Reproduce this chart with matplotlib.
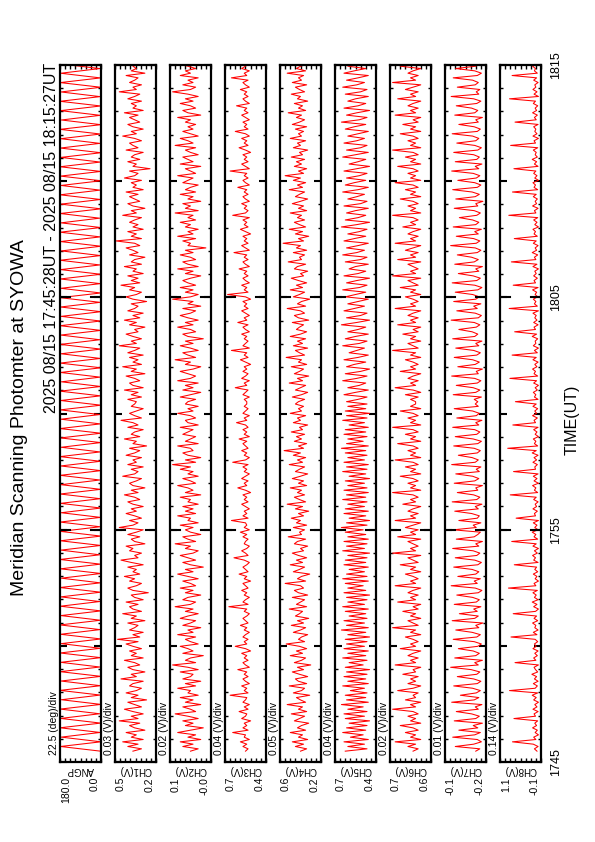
import numpy as np
import matplotlib
matplotlib.use("Agg")
import matplotlib.pyplot as plt
import matplotlib.transforms as mtransforms

plt.rcParams['font.family'] = ['Liberation Sans', 'DejaVu Sans']

title = "Meridian Scanning Photomter at SYOWA"
period = "2025 08/15 17:45:28UT - 2025 08/15 18:15:27UT"

# time in minutes after 17:00 UT
t_start = 45 + 28 / 60
t_end = 75 + 27 / 60
time_ticks = [45, 55, 65, 75]
time_labels = ["1745", "1755", "1805", "1815"]

names = ["ANGP", "CH1(V)", "CH2(V)", "CH3(V)", "CH4(V)", "CH5(V)", "CH6(V)", "CH7(V)", "CH8(V)"]
per_div = ["22.5 (deg)/div", "0.03 (V)/div", "0.02 (V)/div", "0.04 (V)/div", "0.05 (V)/div",
           "0.04 (V)/div", "0.02 (V)/div", "0.01 (V)/div", "0.14 (V)/div"]
vmin = [0.0, 0.225, -0.03, 0.40, 0.22, 0.38, 0.56, -0.21, -0.06]
vstep = [22.5, 0.03, 0.02, 0.04, 0.05, 0.04, 0.02, 0.01, 0.14]

angp = [2, 178, 0, 175, 4, 180, 1, 177, 6, 179, 0, 174, 3, 180, 2,
        176, 0, 179, 5, 177, 1, 180, 3, 175, 0, 178, 4, 180, 2, 176,
        0, 179, 6, 177, 1, 180, 3, 174, 0, 178, 2, 180, 5, 176, 1,
        179, 0, 177, 4, 180, 2, 175, 0, 178, 3, 180, 1, 176, 5, 179,
        0, 177, 2, 180, 4, 175, 1, 178, 0, 180, 3, 176, 6, 179, 0,
        177, 2, 180, 1, 174, 4, 178, 0, 180, 3, 176, 1, 179, 5, 177,
        0, 180, 2, 175, 0, 178, 4, 180, 1, 176, 3, 179, 0, 177, 5,
        180, 2, 174, 0, 178, 3, 180, 1, 176, 6, 179, 0, 177, 2, 180,
        4, 175, 0, 178, 1, 180, 3, 176, 0, 179, 5, 177, 2, 180, 0,
        174, 3, 178, 1, 180, 4, 176, 0, 179, 2, 177, 5, 180, 1, 175]

ch1 = [0.36, 0.31, 0.39, 0.33, 0.42, 0.30, 0.37, 0.34, 0.40, 0.29, 0.35, 0.38, 0.32, 0.44, 0.33,
       0.37, 0.30, 0.36, 0.41, 0.31, 0.35, 0.39, 0.28, 0.37, 0.33, 0.40, 0.34, 0.31, 0.38, 0.36,
       0.30, 0.43, 0.34, 0.37, 0.29, 0.36, 0.39, 0.32, 0.35, 0.41, 0.30, 0.37, 0.34, 0.38, 0.31,
       0.36, 0.40, 0.33, 0.45, 0.32, 0.36, 0.30, 0.38, 0.35, 0.33, 0.39, 0.29, 0.37, 0.34, 0.42,
       0.31, 0.36, 0.38, 0.33, 0.40, 0.30, 0.35, 0.37, 0.27, 0.36, 0.39, 0.34, 0.31, 0.38, 0.35,
       0.41, 0.32, 0.36, 0.34, 0.39, 0.30, 0.37, 0.43, 0.33, 0.35, 0.31, 0.38, 0.36, 0.40, 0.29,
       0.35, 0.37, 0.32, 0.39, 0.34, 0.30, 0.44, 0.36, 0.33, 0.38, 0.31, 0.35, 0.40, 0.34, 0.37,
       0.30, 0.36, 0.39, 0.32, 0.35, 0.41, 0.33, 0.37, 0.29, 0.36, 0.38, 0.34, 0.31, 0.42, 0.35,
       0.33, 0.37, 0.30, 0.39, 0.34, 0.36, 0.31, 0.40, 0.35, 0.32, 0.38, 0.28, 0.36, 0.34, 0.41,
       0.32, 0.37, 0.35, 0.30, 0.39, 0.33, 0.36, 0.43, 0.31, 0.35, 0.38, 0.34, 0.30, 0.37, 0.35,
       0.34, 0.39, 0.31, 0.37, 0.33, 0.41, 0.30, 0.36, 0.38, 0.32, 0.35, 0.40, 0.29, 0.37, 0.34,
       0.42, 0.31, 0.36, 0.33, 0.38, 0.30, 0.39, 0.35, 0.32, 0.44, 0.34, 0.37, 0.31, 0.36, 0.40,
       0.33, 0.35, 0.29, 0.38, 0.34, 0.41, 0.32, 0.36, 0.30, 0.39, 0.35, 0.33, 0.37, 0.28, 0.36,
       0.40, 0.34, 0.31, 0.38, 0.35, 0.43, 0.32, 0.37, 0.33, 0.39, 0.30, 0.36, 0.34, 0.41, 0.31,
       0.37, 0.35, 0.29, 0.38, 0.33, 0.36, 0.40, 0.32, 0.35, 0.46, 0.31, 0.37, 0.34, 0.39, 0.30,
       0.36, 0.33, 0.38, 0.35, 0.31, 0.42, 0.34, 0.37, 0.29, 0.36, 0.39, 0.32, 0.35, 0.38, 0.33,
       0.40, 0.30, 0.36, 0.34, 0.37, 0.31, 0.41, 0.35, 0.33, 0.38, 0.26, 0.36, 0.34, 0.39, 0.32,
       0.37, 0.35, 0.30, 0.40, 0.33, 0.36, 0.38, 0.31, 0.35, 0.42, 0.34, 0.37, 0.30, 0.36, 0.39,
       0.32, 0.35, 0.38, 0.33, 0.41, 0.30, 0.36, 0.34, 0.37, 0.31, 0.39, 0.35, 0.32, 0.44, 0.34,
       0.36, 0.31, 0.38, 0.35, 0.33, 0.40, 0.29, 0.37, 0.34, 0.36, 0.32, 0.39, 0.35, 0.31, 0.37]

ch2 = [0.05, 0.02, 0.08, 0.04, 0.09, 0.01, 0.06, 0.03, 0.10, 0.05, 0.00, 0.07, 0.04, 0.08, 0.02,
       0.06, 0.11, 0.03, 0.05, 0.08, 0.01, 0.07, 0.04, 0.09, 0.02, 0.06, 0.05, 0.10, 0.03, 0.07,
       0.01, 0.08, 0.05, 0.04, 0.09, 0.02, 0.06, 0.12, 0.03, 0.07, 0.05, 0.00, 0.08, 0.04, 0.06,
       0.09, 0.02, 0.05, 0.07, 0.03, 0.10, 0.04, 0.06, 0.01, 0.08, 0.05, 0.03, 0.09, 0.06, 0.02,
       0.07, 0.04, 0.11, 0.05, 0.03, 0.08, 0.06, 0.01, 0.07, 0.04, 0.09, 0.03, 0.05, 0.08, 0.02,
       0.06, 0.10, 0.04, 0.07, 0.00, 0.05, 0.08, 0.03, 0.06, 0.09, 0.04, 0.02, 0.07, 0.05, 0.11,
       0.03, 0.06, 0.08, 0.01, 0.05, 0.07, 0.04, 0.09, 0.02, 0.06, 0.05, 0.10, 0.03, 0.07, 0.04,
       0.08, 0.02, 0.06, 0.05, 0.09, 0.01, 0.07, 0.04, 0.06, 0.10, 0.03, 0.05, 0.08, 0.02, 0.06,
       0.04, 0.09, 0.05, 0.12, 0.03, 0.07, 0.01, 0.06, 0.08, 0.04, 0.05, 0.10, 0.02, 0.07, 0.05,
       0.03, 0.08, 0.06, 0.04, 0.09, 0.02, 0.06, 0.07, 0.03, 0.05, 0.10, 0.04, 0.06, 0.02, 0.07,
       0.06, 0.03, 0.09, 0.05, 0.01, 0.08, 0.04, 0.07, 0.02, 0.10, 0.05, 0.03, 0.06, 0.09, 0.04,
       0.01, 0.07, 0.05, 0.11, 0.03, 0.06, 0.08, 0.02, 0.05, 0.09, 0.04, 0.07, 0.00, 0.06, 0.08,
       0.03, 0.05, 0.10, 0.04, 0.07, 0.02, 0.06, 0.09, 0.05, 0.03, 0.08, 0.01, 0.06, 0.04, 0.12,
       0.05, 0.02, 0.07, 0.04, 0.09, 0.03, 0.06, 0.08, 0.05, 0.01, 0.07, 0.04, 0.10, 0.02, 0.06,
       0.08, 0.03, 0.05, 0.09, 0.04, 0.07, -0.01, 0.06, 0.05, 0.08, 0.03, 0.10, 0.04, 0.06, 0.02,
       0.07, 0.05, 0.09, 0.03, 0.06, 0.04, 0.11, 0.02, 0.07, 0.05, 0.08, 0.01, 0.06, 0.04, 0.09,
       0.03, 0.07, 0.05, 0.02, 0.08, 0.06, 0.04, 0.10, 0.03, 0.05, 0.07, 0.01, 0.09, 0.04, 0.06,
       0.08, 0.02, 0.05, 0.07, 0.03, 0.11, 0.04, 0.06, 0.09, 0.02, 0.05, 0.08, 0.04, 0.06, 0.03,
       0.07, 0.05, 0.10, 0.01, 0.06, 0.08, 0.03, 0.05, 0.09, 0.04, 0.07, 0.02, 0.06, 0.12, 0.05,
       0.03, 0.08, 0.04, 0.06, 0.02, 0.09, 0.05, 0.07, 0.03, 0.06, 0.10, 0.04, 0.05, 0.08, 0.06]

ch3 = [0.56, 0.54, 0.58, 0.55, 0.60, 0.53, 0.57, 0.56, 0.66, 0.54, 0.58, 0.55, 0.57, 0.52, 0.59,
       0.56, 0.55, 0.61, 0.54, 0.57, 0.53, 0.58, 0.56, 0.55, 0.68, 0.54, 0.57, 0.55, 0.59, 0.53,
       0.56, 0.58, 0.54, 0.57, 0.55, 0.62, 0.53, 0.56, 0.58, 0.54, 0.57, 0.55, 0.59, 0.52, 0.56,
       0.64, 0.55, 0.57, 0.54, 0.58, 0.56, 0.53, 0.57, 0.55, 0.60, 0.54, 0.56, 0.58, 0.55, 0.53,
       0.57, 0.55, 0.69, 0.54, 0.58, 0.56, 0.53, 0.57, 0.55, 0.59, 0.54, 0.56, 0.58, 0.52, 0.57,
       0.55, 0.61, 0.54, 0.56, 0.58, 0.55, 0.53, 0.57, 0.65, 0.54, 0.56, 0.59, 0.55, 0.53, 0.57,
       0.56, 0.54, 0.58, 0.55, 0.60, 0.53, 0.57, 0.55, 0.56, 0.67, 0.54, 0.58, 0.55, 0.57, 0.53,
       0.56, 0.59, 0.54, 0.57, 0.55, 0.58, 0.52, 0.56, 0.62, 0.55, 0.57, 0.54, 0.59, 0.56, 0.53,
       0.57, 0.55, 0.58, 0.54, 0.66, 0.56, 0.53, 0.57, 0.55, 0.59, 0.54, 0.56, 0.58, 0.55, 0.61,
       0.53, 0.57, 0.55, 0.58, 0.54, 0.56, 0.63, 0.55, 0.57, 0.53, 0.58, 0.56, 0.54, 0.57, 0.55,
       0.55, 0.57, 0.53, 0.58, 0.56, 0.54, 0.64, 0.55, 0.57, 0.53, 0.59, 0.56, 0.54, 0.58, 0.55,
       0.57, 0.52, 0.56, 0.60, 0.54, 0.57, 0.55, 0.67, 0.53, 0.58, 0.56, 0.54, 0.57, 0.55, 0.59,
       0.53, 0.56, 0.58, 0.54, 0.62, 0.55, 0.57, 0.53, 0.56, 0.59, 0.54, 0.57, 0.55, 0.58, 0.52,
       0.56, 0.70, 0.54, 0.57, 0.55, 0.59, 0.53, 0.56, 0.58, 0.54, 0.57, 0.55, 0.61, 0.53, 0.56,
       0.58, 0.54, 0.57, 0.55, 0.65, 0.53, 0.56, 0.59, 0.54, 0.57, 0.55, 0.58, 0.52, 0.56, 0.60,
       0.54, 0.57, 0.55, 0.58, 0.53, 0.66, 0.56, 0.54, 0.57, 0.55, 0.59, 0.53, 0.56, 0.58, 0.54,
       0.57, 0.55, 0.62, 0.53, 0.56, 0.58, 0.54, 0.57, 0.55, 0.68, 0.53, 0.56, 0.59, 0.54, 0.57,
       0.55, 0.58, 0.52, 0.56, 0.61, 0.54, 0.57, 0.55, 0.59, 0.53, 0.56, 0.64, 0.54, 0.57, 0.55,
       0.58, 0.53, 0.56, 0.59, 0.54, 0.57, 0.55, 0.63, 0.53, 0.56, 0.58, 0.54, 0.57, 0.55, 0.60,
       0.53, 0.56, 0.58, 0.54, 0.67, 0.55, 0.57, 0.53, 0.59, 0.56, 0.54, 0.58, 0.55, 0.57, 0.56]

ch4 = [0.42, 0.36, 0.47, 0.39, 0.50, 0.35, 0.44, 0.40, 0.52, 0.37, 0.45, 0.41, 0.34, 0.48, 0.43,
       0.38, 0.51, 0.36, 0.44, 0.40, 0.55, 0.37, 0.42, 0.46, 0.33, 0.49, 0.41, 0.38, 0.53, 0.36,
       0.44, 0.47, 0.35, 0.43, 0.50, 0.39, 0.45, 0.32, 0.48, 0.41, 0.37, 0.52, 0.40, 0.46, 0.36,
       0.43, 0.56, 0.38, 0.44, 0.41, 0.35, 0.49, 0.42, 0.37, 0.51, 0.39, 0.45, 0.34, 0.47, 0.43,
       0.40, 0.53, 0.36, 0.46, 0.42, 0.38, 0.50, 0.35, 0.44, 0.48, 0.39, 0.42, 0.57, 0.37, 0.45,
       0.41, 0.33, 0.49, 0.43, 0.38, 0.52, 0.40, 0.46, 0.36, 0.44, 0.50, 0.39, 0.42, 0.35, 0.48,
       0.45, 0.37, 0.54, 0.41, 0.43, 0.38, 0.49, 0.36, 0.46, 0.42, 0.51, 0.39, 0.44, 0.34, 0.47,
       0.40, 0.55, 0.37, 0.43, 0.48, 0.38, 0.45, 0.41, 0.52, 0.36, 0.44, 0.39, 0.50, 0.42, 0.35,
       0.47, 0.43, 0.38, 0.53, 0.40, 0.45, 0.37, 0.49, 0.42, 0.58, 0.39, 0.44, 0.36, 0.48, 0.41,
       0.46, 0.38, 0.51, 0.40, 0.43, 0.35, 0.49, 0.42, 0.45, 0.37, 0.52, 0.41, 0.44, 0.39, 0.47,
       0.44, 0.38, 0.50, 0.41, 0.35, 0.47, 0.42, 0.37, 0.53, 0.40, 0.45, 0.34, 0.48, 0.43, 0.39,
       0.51, 0.36, 0.44, 0.41, 0.56, 0.38, 0.43, 0.47, 0.35, 0.49, 0.40, 0.45, 0.37, 0.52, 0.42,
       0.36, 0.46, 0.43, 0.39, 0.50, 0.34, 0.44, 0.48, 0.38, 0.42, 0.55, 0.37, 0.45, 0.41, 0.33,
       0.49, 0.43, 0.38, 0.52, 0.40, 0.46, 0.36, 0.44, 0.51, 0.39, 0.42, 0.35, 0.48, 0.45, 0.37,
       0.54, 0.41, 0.43, 0.38, 0.49, 0.36, 0.46, 0.42, 0.59, 0.39, 0.44, 0.34, 0.47, 0.40, 0.53,
       0.37, 0.43, 0.48, 0.38, 0.45, 0.41, 0.52, 0.36, 0.44, 0.39, 0.50, 0.42, 0.35, 0.47, 0.43,
       0.38, 0.53, 0.40, 0.45, 0.37, 0.49, 0.42, 0.57, 0.39, 0.44, 0.36, 0.48, 0.41, 0.46, 0.38,
       0.51, 0.40, 0.43, 0.35, 0.49, 0.42, 0.45, 0.37, 0.52, 0.41, 0.44, 0.39, 0.47, 0.36, 0.50,
       0.43, 0.38, 0.46, 0.41, 0.54, 0.37, 0.44, 0.40, 0.48, 0.35, 0.45, 0.42, 0.51, 0.38, 0.43,
       0.47, 0.36, 0.50, 0.41, 0.44, 0.39, 0.55, 0.37, 0.46, 0.42, 0.34, 0.48, 0.43, 0.40, 0.45]

ch5 = [0.62, 0.45, 0.60, 0.47, 0.63, 0.44, 0.58, 0.48, 0.64, 0.46, 0.61, 0.45, 0.59, 0.43, 0.62,
       0.47, 0.63, 0.45, 0.60, 0.48, 0.65, 0.44, 0.61, 0.46, 0.62, 0.45, 0.58, 0.47, 0.64, 0.44,
       0.60, 0.46, 0.63, 0.45, 0.61, 0.43, 0.62, 0.48, 0.59, 0.45, 0.64, 0.46, 0.60, 0.44, 0.63,
       0.47, 0.61, 0.45, 0.62, 0.43, 0.60, 0.46, 0.65, 0.44, 0.61, 0.47, 0.63, 0.45, 0.59, 0.46,
       0.62, 0.44, 0.64, 0.47, 0.60, 0.45, 0.61, 0.43, 0.63, 0.46, 0.60, 0.48, 0.62, 0.44, 0.64,
       0.45, 0.61, 0.47, 0.59, 0.44, 0.63, 0.46, 0.62, 0.45, 0.60, 0.43, 0.64, 0.47, 0.61, 0.45,
       0.63, 0.44, 0.60, 0.46, 0.62, 0.48, 0.65, 0.45, 0.61, 0.43, 0.59, 0.46, 0.63, 0.44, 0.62,
       0.47, 0.60, 0.45, 0.64, 0.46, 0.61, 0.44, 0.63, 0.45, 0.60, 0.47, 0.62, 0.43, 0.59, 0.46,
       0.64, 0.45, 0.61, 0.44, 0.63, 0.47, 0.60, 0.45, 0.62, 0.46, 0.65, 0.44, 0.61, 0.48, 0.60,
       0.45, 0.63, 0.46, 0.62, 0.44, 0.59, 0.47, 0.64, 0.45, 0.61, 0.43, 0.62, 0.46, 0.60, 0.45,
       0.61, 0.52, 0.45, 0.63, 0.54, 0.44, 0.60, 0.51, 0.46, 0.64, 0.53, 0.45, 0.62, 0.50, 0.43,
       0.61, 0.55, 0.46, 0.63, 0.52, 0.44, 0.59, 0.53, 0.47, 0.64, 0.51, 0.45, 0.62, 0.54, 0.44,
       0.60, 0.52, 0.46, 0.65, 0.53, 0.43, 0.61, 0.50, 0.45, 0.63, 0.55, 0.47, 0.60, 0.52, 0.44,
       0.62, 0.54, 0.46, 0.64, 0.51, 0.45, 0.61, 0.53, 0.43, 0.63, 0.52, 0.46, 0.59, 0.54, 0.44,
       0.62, 0.50, 0.45, 0.64, 0.53, 0.47, 0.61, 0.52, 0.44, 0.63, 0.55, 0.46, 0.60, 0.51, 0.45,
       0.65, 0.53, 0.43, 0.62, 0.52, 0.46, 0.61, 0.54, 0.44, 0.63, 0.50, 0.45, 0.60, 0.53, 0.47,
       0.64, 0.52, 0.44, 0.62, 0.55, 0.46, 0.61, 0.51, 0.45, 0.63, 0.53, 0.43, 0.59, 0.52, 0.46,
       0.64, 0.54, 0.44, 0.61, 0.50, 0.45, 0.63, 0.53, 0.47, 0.60, 0.52, 0.44, 0.62, 0.55, 0.46,
       0.65, 0.51, 0.45, 0.61, 0.53, 0.43, 0.63, 0.52, 0.46, 0.60, 0.54, 0.44, 0.62, 0.50, 0.45,
       0.64, 0.53, 0.47, 0.61, 0.52, 0.44, 0.63, 0.55, 0.46, 0.60, 0.51, 0.45, 0.62, 0.53, 0.44]

ch6 = [0.63, 0.61, 0.65, 0.62, 0.70, 0.60, 0.64, 0.62, 0.66, 0.61, 0.63, 0.68, 0.60, 0.64, 0.62,
       0.65, 0.61, 0.63, 0.71, 0.62, 0.64, 0.60, 0.66, 0.62, 0.63, 0.61, 0.69, 0.63, 0.60, 0.65,
       0.62, 0.64, 0.61, 0.67, 0.62, 0.63, 0.60, 0.70, 0.62, 0.64, 0.61, 0.65, 0.63, 0.60, 0.68,
       0.62, 0.64, 0.61, 0.63, 0.66, 0.60, 0.64, 0.62, 0.71, 0.61, 0.63, 0.65, 0.60, 0.64, 0.62,
       0.67, 0.61, 0.63, 0.60, 0.69, 0.62, 0.64, 0.61, 0.65, 0.63, 0.60, 0.70, 0.62, 0.64, 0.61,
       0.63, 0.66, 0.60, 0.64, 0.62, 0.68, 0.61, 0.63, 0.65, 0.60, 0.71, 0.62, 0.64, 0.61, 0.63,
       0.65, 0.60, 0.69, 0.62, 0.64, 0.61, 0.66, 0.63, 0.60, 0.70, 0.62, 0.64, 0.61, 0.65, 0.63,
       0.60, 0.67, 0.62, 0.64, 0.61, 0.63, 0.71, 0.60, 0.64, 0.62, 0.65, 0.61, 0.63, 0.68, 0.60,
       0.64, 0.62, 0.66, 0.61, 0.63, 0.70, 0.60, 0.64, 0.62, 0.65, 0.61, 0.63, 0.69, 0.60, 0.64,
       0.62, 0.66, 0.61, 0.63, 0.71, 0.60, 0.64, 0.62, 0.65, 0.61, 0.63, 0.68, 0.60, 0.64, 0.62,
       0.62, 0.64, 0.61, 0.66, 0.60, 0.63, 0.70, 0.62, 0.64, 0.61, 0.65, 0.63, 0.60, 0.68, 0.62,
       0.64, 0.61, 0.63, 0.66, 0.60, 0.64, 0.62, 0.71, 0.61, 0.63, 0.65, 0.60, 0.64, 0.62, 0.67,
       0.61, 0.63, 0.60, 0.69, 0.62, 0.64, 0.61, 0.65, 0.63, 0.60, 0.70, 0.62, 0.64, 0.61, 0.63,
       0.66, 0.60, 0.64, 0.62, 0.68, 0.61, 0.63, 0.65, 0.60, 0.71, 0.62, 0.64, 0.61, 0.63, 0.65,
       0.60, 0.69, 0.62, 0.64, 0.61, 0.66, 0.63, 0.60, 0.70, 0.62, 0.64, 0.61, 0.65, 0.63, 0.60,
       0.67, 0.62, 0.64, 0.61, 0.63, 0.71, 0.60, 0.64, 0.62, 0.65, 0.61, 0.63, 0.68, 0.60, 0.64,
       0.62, 0.66, 0.61, 0.63, 0.70, 0.60, 0.64, 0.62, 0.65, 0.61, 0.63, 0.69, 0.60, 0.64, 0.62,
       0.66, 0.61, 0.63, 0.71, 0.60, 0.64, 0.62, 0.65, 0.61, 0.63, 0.68, 0.60, 0.64, 0.62, 0.67,
       0.61, 0.63, 0.60, 0.70, 0.62, 0.64, 0.61, 0.65, 0.63, 0.60, 0.69, 0.62, 0.64, 0.61, 0.66,
       0.63, 0.60, 0.71, 0.62, 0.64, 0.61, 0.65, 0.63, 0.60, 0.68, 0.62, 0.64, 0.61, 0.63, 0.66]

ch7 = [-0.190, -0.198, -0.150, -0.186, -0.201, -0.193, -0.145, -0.188, -0.199, -0.157, -0.194, -0.185, -0.203, -0.148, -0.190,
       -0.197, -0.182, -0.152, -0.195, -0.189, -0.202, -0.143, -0.187, -0.196, -0.160, -0.191, -0.199, -0.184, -0.147, -0.193,
       -0.200, -0.186, -0.154, -0.192, -0.198, -0.181, -0.141, -0.195, -0.188, -0.203, -0.149, -0.190, -0.197, -0.185, -0.156,
       -0.194, -0.201, -0.187, -0.146, -0.192, -0.199, -0.183, -0.151, -0.196, -0.190, -0.204, -0.144, -0.188, -0.195, -0.158,
       -0.193, -0.186, -0.200, -0.148, -0.191, -0.197, -0.184, -0.153, -0.195, -0.202, -0.189, -0.142, -0.193, -0.187, -0.199,
       -0.155, -0.190, -0.196, -0.183, -0.147, -0.194, -0.201, -0.188, -0.150, -0.192, -0.198, -0.185, -0.145, -0.196, -0.190,
       -0.203, -0.152, -0.187, -0.194, -0.199, -0.146, -0.191, -0.185, -0.200, -0.157, -0.193, -0.197, -0.182, -0.149, -0.195,
       -0.189, -0.202, -0.144, -0.192, -0.198, -0.186, -0.154, -0.194, -0.190, -0.203, -0.148, -0.188, -0.196, -0.184, -0.151,
       -0.197, -0.191, -0.200, -0.143, -0.189, -0.195, -0.183, -0.156, -0.193, -0.199, -0.187, -0.147, -0.194, -0.201, -0.185,
       -0.150, -0.192, -0.198, -0.188, -0.145, -0.196, -0.190, -0.202, -0.153, -0.191, -0.197, -0.184, -0.148, -0.195, -0.189,
       -0.194, -0.187, -0.201, -0.146, -0.190, -0.198, -0.185, -0.152, -0.193, -0.200, -0.188, -0.143, -0.195, -0.191, -0.203,
       -0.155, -0.189, -0.197, -0.184, -0.148, -0.192, -0.199, -0.186, -0.151, -0.196, -0.190, -0.202, -0.145, -0.188, -0.194,
       -0.183, -0.157, -0.191, -0.198, -0.187, -0.142, -0.195, -0.201, -0.189, -0.153, -0.193, -0.186, -0.200, -0.147, -0.190,
       -0.197, -0.184, -0.150, -0.194, -0.202, -0.188, -0.144, -0.192, -0.199, -0.185, -0.156, -0.196, -0.190, -0.203, -0.149,
       -0.187, -0.195, -0.182, -0.154, -0.193, -0.200, -0.189, -0.141, -0.191, -0.198, -0.186, -0.152, -0.195, -0.188, -0.201,
       -0.146, -0.190, -0.196, -0.184, -0.158, -0.192, -0.199, -0.187, -0.148, -0.194, -0.190, -0.204, -0.151, -0.189, -0.197,
       -0.183, -0.145, -0.193, -0.200, -0.188, -0.155, -0.191, -0.198, -0.185, -0.143, -0.196, -0.189, -0.202, -0.150, -0.192,
       -0.197, -0.186, -0.147, -0.194, -0.201, -0.188, -0.153, -0.190, -0.196, -0.184, -0.144, -0.193, -0.199, -0.187, -0.157,
       -0.195, -0.190, -0.203, -0.149, -0.188, -0.194, -0.182, -0.152, -0.192, -0.200, -0.186, -0.142, -0.196, -0.191, -0.198,
       -0.154, -0.189, -0.195, -0.184, -0.146, -0.193, -0.201, -0.188, -0.151, -0.190, -0.197, -0.185, -0.148, -0.194, -0.190]

ch8 = [0.05, 0.12, 0.02, 0.15, 0.72, 0.08, 0.14, 0.01, 0.10, 0.04, 0.17, 0.06, 0.11, 0.03, 0.68,
       0.09, 0.13, 0.02, 0.16, 0.05, 0.11, 0.01, 0.14, 0.07, 0.18, 0.03, 0.80, 0.10, 0.04, 0.15,
       0.02, 0.12, 0.06, 0.19, 0.03, 0.09, 0.13, 0.01, 0.65, 0.08, 0.14, 0.04, 0.11, 0.02, 0.16,
       0.07, 0.12, 0.03, 0.10, 0.76, 0.05, 0.15, 0.02, 0.11, 0.08, 0.17, 0.03, 0.13, 0.06, 0.70,
       0.09, 0.01, 0.14, 0.05, 0.18, 0.02, 0.12, 0.07, 0.16, 0.04, 0.83, 0.08, 0.13, 0.01, 0.10,
       0.05, 0.15, 0.03, 0.11, 0.06, 0.67, 0.02, 0.14, 0.09, 0.17, 0.04, 0.12, 0.01, 0.16, 0.07,
       0.74, 0.03, 0.13, 0.08, 0.18, 0.02, 0.11, 0.05, 0.15, 0.01, 0.62, 0.09, 0.12, 0.04, 0.16,
       0.06, 0.10, 0.02, 0.14, 0.07, 0.78, 0.03, 0.12, 0.08, 0.17, 0.01, 0.13, 0.05, 0.15, 0.02,
       0.69, 0.09, 0.11, 0.04, 0.16, 0.06, 0.13, 0.02, 0.18, 0.07, 0.85, 0.03, 0.12, 0.08, 0.15,
       0.01, 0.10, 0.05, 0.14, 0.02, 0.71, 0.09, 0.13, 0.04, 0.17, 0.06, 0.11, 0.03, 0.16, 0.07,
       0.64, 0.02, 0.12, 0.08, 0.15, 0.04, 0.10, 0.01, 0.14, 0.06, 0.79, 0.03, 0.13, 0.09, 0.17,
       0.05, 0.11, 0.02, 0.16, 0.07, 0.73, 0.04, 0.12, 0.01, 0.15, 0.08, 0.10, 0.03, 0.18, 0.06,
       0.66, 0.09, 0.13, 0.02, 0.14, 0.05, 0.11, 0.07, 0.16, 0.01, 0.81, 0.04, 0.12, 0.08, 0.15,
       0.03, 0.10, 0.06, 0.17, 0.02, 0.70, 0.09, 0.13, 0.04, 0.14, 0.07, 0.11, 0.01, 0.16, 0.05,
       0.75, 0.08, 0.12, 0.03, 0.18, 0.06, 0.10, 0.02, 0.15, 0.07, 0.67, 0.04, 0.13, 0.09, 0.16,
       0.01, 0.11, 0.05, 0.14, 0.03, 0.82, 0.08, 0.12, 0.02, 0.17, 0.06, 0.10, 0.04, 0.15, 0.07,
       0.72, 0.03, 0.13, 0.09, 0.16, 0.01, 0.11, 0.05, 0.14, 0.08, 0.68, 0.02, 0.12, 0.06, 0.18,
       0.04, 0.10, 0.07, 0.15, 0.03, 0.77, 0.09, 0.13, 0.01, 0.16, 0.05, 0.11, 0.08, 0.14, 0.02,
       0.65, 0.07, 0.12, 0.04, 0.17, 0.06, 0.10, 0.03, 0.15, 0.09, 0.80, 0.01, 0.13, 0.05, 0.16,
       0.08, 0.11, 0.02, 0.14, 0.06, 0.73, 0.04, 0.12, 0.09, 0.17, 0.03, 0.10, 0.07, 0.15, 0.05]

series = [angp, ch1, ch2, ch3, ch4, ch5, ch6, ch7, ch8]

W, H = 595, 842
fig = plt.figure(figsize=(W / 100, H / 100), dpi=100)


def fx(px):
    return px / W


def fy(py):
    return 1 - py / H


top_px, bot_px = 65, 762
pw = 41
for i, vals in enumerate(series):
    left = 60 + 55 * i
    ax = fig.add_axes([fx(left), fy(bot_px), pw / W, (bot_px - top_px) / H])
    t = np.linspace(t_start, t_end, len(vals))
    ax.plot(vals, t, color="red", lw=0.75)
    lo = vmin[i]
    hi = lo + 8 * vstep[i]
    ax.set_xlim(hi, lo)
    ax.set_ylim(45, 75)
    ax.set_xticks(np.linspace(lo, hi, 9))
    ax.set_yticks(np.arange(45, 76, 5))
    ax.set_yticks(np.arange(45, 76, 1), minor=True)
    ax.tick_params(axis="x", direction="in", length=3, width=1, top=True, bottom=True,
                   labelbottom=False)
    ax.tick_params(axis="y", which="major", direction="in", length=5, width=1.5,
                   left=True, right=True, labelleft=False)
    ax.tick_params(axis="y", which="minor", direction="in", length=2.5, width=1,
                   left=True, right=True)
    for s in ax.spines.values():
        s.set_linewidth(1.6)
    # longer ticks at the labelled times
    tr = mtransforms.blended_transform_factory(ax.transAxes, ax.transData)
    for tt in time_ticks[1:-1]:
        ax.plot([0, 0.24], [tt, tt], transform=tr, color="black", lw=1.5)
        ax.plot([0.76, 1], [tt, tt], transform=tr, color="black", lw=1.5)

    cx = left + pw / 2
    fig.text(fx(cx), fy(770), names[i], rotation=180, ha="center", va="center", fontsize=7)
    fig.text(fx(left + 6), fy(777), "%.1f" % hi, rotation=90, ha="center", va="top", fontsize=7.5)
    fig.text(fx(left + pw - 6), fy(777), "%.1f" % lo, rotation=90, ha="center", va="top", fontsize=7.5)
    fig.text(fx(left - 6), fy(755), per_div[i], rotation=90, ha="center", va="bottom", fontsize=7.5)

    if i == len(series) - 1:
        for tt, lab in zip(time_ticks, time_labels):
            ax.text(1 + 15 / pw, tt, lab, transform=tr, rotation=90, ha="center",
                    va="center", fontsize=9)

fig.text(fx(572), fy(420), "TIME(UT)", rotation=90, ha="center", va="center", fontsize=11.5)
fig.text(fx(20), fy(418), title, rotation=90, ha="center", va="center", fontsize=14)
fig.text(fx(52), fy(63), period, rotation=90, ha="center", va="top", fontsize=11.5)

fig.savefig("out.png", dpi=100)
